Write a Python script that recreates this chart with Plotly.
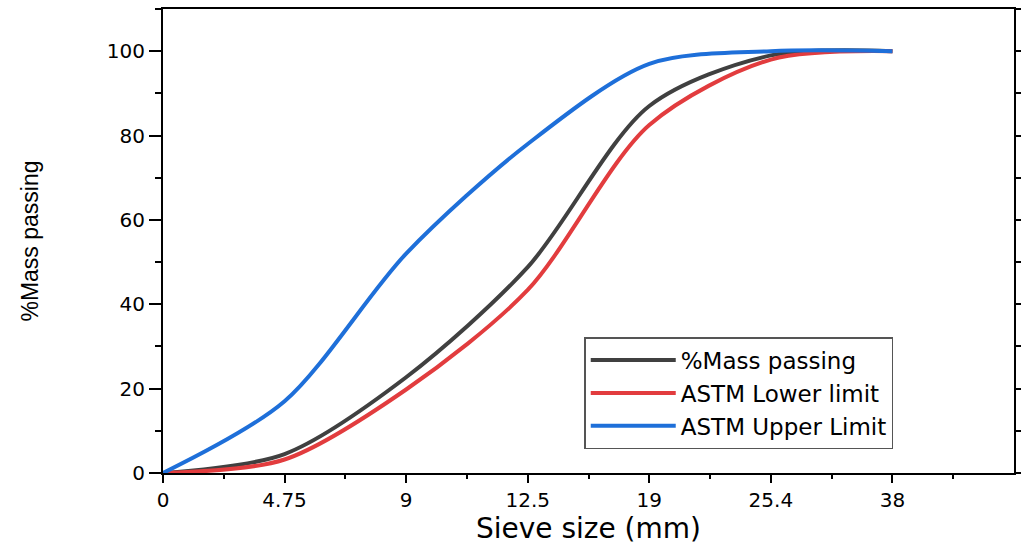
import plotly.graph_objects as go

sieve_labels = ["0", "4.75", "9", "12.5", "19", "25.4", "38"]
mass_passing = [0, 4.5, 22.7, 48.8, 87, 99, 100]
astm_lower = [0, 3.2, 19.8, 43.4, 82.5, 98, 100]
astm_upper = [0, 17, 52, 78, 97, 100, 100]

pos = list(range(len(sieve_labels)))

fig = go.Figure()
series = [
    ("%Mass passing", mass_passing, "#404040"),
    ("ASTM Lower limit", astm_lower, "#e23c3e"),
    ("ASTM Upper Limit", astm_upper, "#1e6fd9"),
]
for name, vals, col in series:
    fig.add_trace(go.Scatter(
        x=pos, y=vals, name=name, mode="lines",
        line=dict(color=col, width=4, shape="spline", smoothing=0.85),
    ))

wide = "DejaVu Sans, Verdana, sans-serif"
narrow = "Liberation Sans, Arial, sans-serif"
fig.update_layout(
    width=1021, height=554,
    margin=dict(l=163, r=7, t=9, b=81, autoexpand=False),
    plot_bgcolor="white", paper_bgcolor="white",
    font=dict(family=wide, color="black"),
    showlegend=True,
    legend=dict(
        x=0.495, y=0.293, xanchor="left", yanchor="top",
        bordercolor="#555555", borderwidth=1.5, bgcolor="white",
        font=dict(size=23, family=wide, color="black"),
        tracegroupgap=0, itemwidth=85,
    ),
    xaxis=dict(
        range=[0, 7], automargin=False,
        tickmode="array", tickvals=pos, ticktext=sieve_labels,
        ticks="outside", ticklen=8, tickwidth=2, tickcolor="black",
        showline=True, linecolor="black", linewidth=2, mirror=True,
        showgrid=False, zeroline=False,
        tickfont=dict(size=20, family=wide),
        minor=dict(tickvals=[0.5 + i for i in range(7)], ticks="outside", ticklen=4, tickwidth=2, tickcolor="black"),
        title=dict(text="Sieve size (mm)", font=dict(size=28, family=wide), standoff=6),
    ),
    yaxis=dict(
        range=[0, 110], automargin=False,
        tickmode="array", tickvals=[0, 20, 40, 60, 80, 100],
        ticks="outside", ticklen=12, tickwidth=2, tickcolor="black",
        showline=True, linecolor="black", linewidth=2, mirror="allticks",
        showgrid=False, zeroline=False,
        tickfont=dict(size=20, family=wide),
        minor=dict(tickvals=[10, 30, 50, 70, 90, 110], ticks="outside", ticklen=6, tickwidth=2, tickcolor="black"),
        title=dict(text="%Mass passing", font=dict(size=23, family=narrow), standoff=62),
    ),
)

fig.write_html("out.html")
